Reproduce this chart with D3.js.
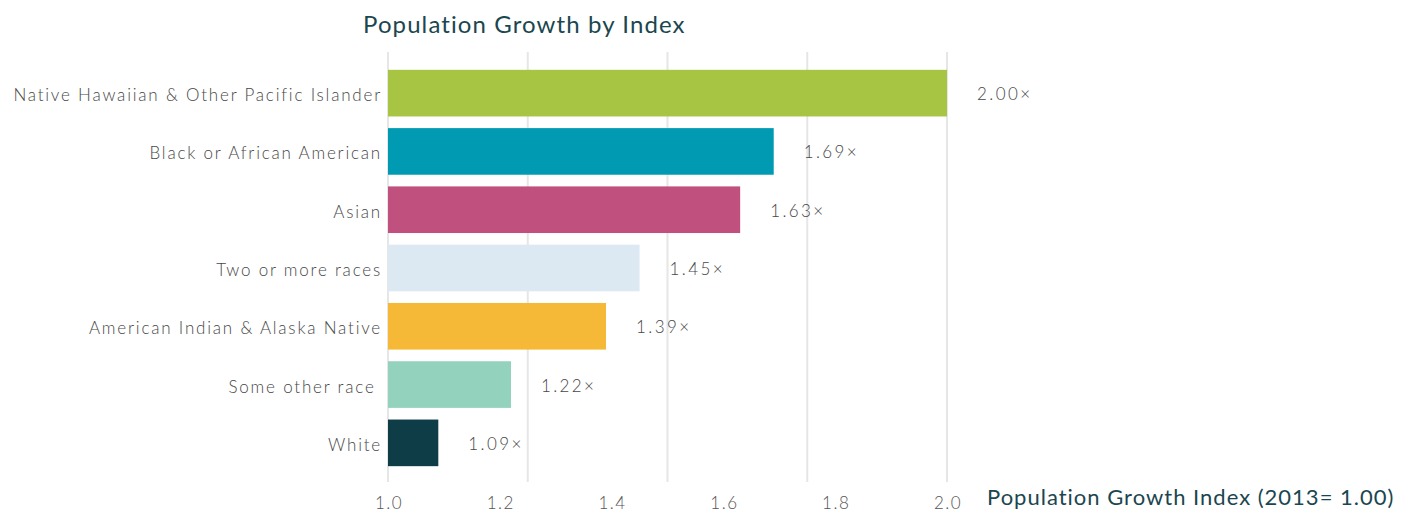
<!DOCTYPE html>
<html>
<head>
    <meta charset="UTF-8">
    <title>Population Growth by Index</title>
    <style>
        body { margin: 0; background: #fff; }
        svg { font-family: Lato, "Open Sans", sans-serif; }
        .grid line { stroke: #e6e6e6; stroke-width: 2px; }
        .cat { fill: #474747; font-size: 17px; font-weight: 300; letter-spacing: 1.8px; }
        .val { fill: #474747; font-size: 17px; font-weight: 300; letter-spacing: 2.4px; }
        .tick-label { fill: #555; font-size: 17px; font-weight: 300; letter-spacing: 1.5px; }
        .title { fill: #1b4650; font-size: 24px; letter-spacing: 1.1px; }
        .axis-title { fill: #1b4650; font-size: 22px; letter-spacing: 1px; }
    </style>
</head>
<body>
<script src="https://cdnjs.cloudflare.com/ajax/libs/d3/7.8.5/d3.min.js"></script>
<script>
    var categories = [
        "Native Hawaiian & Other Pacific Islander",
        "Black or African American",
        "Asian",
        "Two or more races",
        "American Indian & Alaska Native",
        "Some other race ",
        "White"
    ];
    var values = [2.00, 1.69, 1.63, 1.45, 1.39, 1.22, 1.09];
    var colors = ["#a7c443", "#009bb3", "#c0517e", "#dce8f2", "#f5b937", "#93d2bd", "#0e3c47"];
    var tickValues = [1.0, 1.2, 1.4, 1.6, 1.8, 2.0];
    var gridValues = [1.0, 1.25, 1.5, 1.75, 2.0];

    var width = 1403, height = 513;

    var x = d3.scaleLinear().domain([1.0, 2.0]).range([388, 947]);
    var y = d3.scaleBand().domain(categories).range([64, 472]).paddingInner(0.2).paddingOuter(0.1);

    var svg = d3.select("body").append("svg")
        .attr("width", width)
        .attr("height", height);

    svg.append("g")
        .attr("class", "grid")
        .selectAll("line")
        .data(gridValues)
        .enter().append("line")
        .attr("x1", (d) => x(d)).attr("x2", (d) => x(d))
        .attr("y1", 52).attr("y2", 482);

    svg.append("g")
        .selectAll("rect")
        .data(values)
        .enter().append("rect")
        .attr("x", x(1.0))
        .attr("y", (d, i) => y(categories[i]))
        .attr("width", (d) => x(d) - x(1.0))
        .attr("height", y.bandwidth())
        .attr("fill", (d, i) => colors[i]);

    // category labels, right aligned against the bars
    svg.append("g")
        .selectAll("text")
        .data(categories)
        .enter().append("text")
        .attr("class", "cat")
        .attr("x", 382)
        .attr("y", (d) => y(d) + y.bandwidth() / 2 + 2)
        .attr("dy", "0.35em")
        .attr("text-anchor", "end")
        .style("white-space", "pre")
        .text((d) => d);

    svg.append("g")
        .selectAll("text")
        .data(values)
        .enter().append("text")
        .attr("class", "val")
        .attr("x", (d) => x(d) + 30)
        .attr("y", (d, i) => y(categories[i]) + y.bandwidth() / 2 + 1)
        .attr("dy", "0.35em")
        .text((d) => d.toFixed(2) + "\u00d7");

    svg.append("g")
        .selectAll("text")
        .data(tickValues)
        .enter().append("text")
        .attr("class", "tick-label")
        .attr("x", (d) => x(d) + 1)
        .attr("y", 503)
        .attr("dy", "0.35em")
        .attr("text-anchor", "middle")
        .text((d) => d.toFixed(1));

    svg.append("text")
        .attr("class", "title")
        .attr("x", 363)
        .attr("y", 33)
        .text("Population Growth by Index");

    svg.append("text")
        .attr("class", "axis-title")
        .attr("x", 987)
        .attr("y", 497)
        .attr("dy", "0.35em")
        .text("Population Growth Index (2013= 1.00)");
</script>
</body>
</html>
